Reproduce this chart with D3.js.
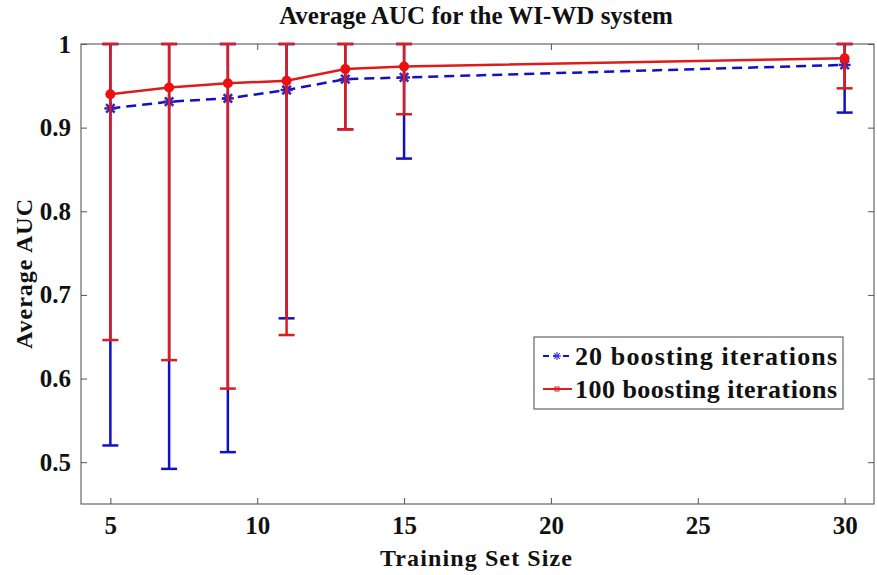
<!DOCTYPE html>
<html>
<head>
<meta charset="utf-8">
<script src="https://cdn.jsdelivr.net/npm/d3@7"></script>
<style>
  body { margin: 0; background: #fff; }
  svg text { font-family: "Liberation Serif", "DejaVu Serif", serif; font-weight: bold; fill: #111; }
</style>
</head>
<body>
<svg id="chart" width="877" height="575"></svg>
<script>
// Data
var sizes = [5, 7, 9, 11, 13, 15, 30];
var auc20 = [0.923, 0.931, 0.935, 0.945, 0.958, 0.960, 0.975];
var low20 = [0.520, 0.492, 0.512, 0.672, 0.898, 0.863, 0.918];
var high20 = [1, 1, 1, 1, 1, 1, 1];
var auc100 = [0.940, 0.948, 0.953, 0.956, 0.970, 0.973, 0.983];
var low100 = [0.646, 0.622, 0.588, 0.652, 0.898, 0.916, 0.947];
var high100 = [1, 1, 1, 1, 1, 1, 1];
var xTicks = [5, 10, 15, 20, 25, 30];
var yTicks = [0.5, 0.6, 0.7, 0.8, 0.9, 1];
var seriesNames = ["20 boosting iterations", "100 boosting iterations"];

var svg = d3.select("#chart"),
  margin = {left: 81, right: 3, top: 44, bottom: 71},
  width = 877 - margin.left - margin.right,
  height = 575 - margin.top - margin.bottom,
  capW = 8;

var x = d3.scaleLinear().domain([4, 31]).range([margin.left, margin.left + width]);
var y = d3.scaleLinear().domain([0.45, 1]).range([margin.top + height, margin.top]);

// title
svg.append("text")
  .attr("x", 476).attr("y", 24)
  .attr("text-anchor", "middle")
  .style("font-size", "25px")
  .text("Average AUC for the WI-WD system");

// axes box with inward ticks
svg.append("rect")
  .attr("x", margin.left).attr("y", margin.top)
  .attr("width", width).attr("height", height)
  .attr("fill", "none").attr("stroke", "#666").attr("stroke-width", 1.2);

var gx = svg.append("g")
  .attr("transform", "translate(0," + (margin.top + height) + ")")
  .call(d3.axisBottom(x).tickValues(xTicks).tickSizeInner(-6).tickSizeOuter(0).tickPadding(12));
var gxTop = svg.append("g")
  .attr("transform", "translate(0," + margin.top + ")")
  .call(d3.axisTop(x).tickValues(xTicks).tickSizeInner(-6).tickSizeOuter(0).tickFormat(""));
var gy = svg.append("g")
  .attr("transform", "translate(" + margin.left + ",0)")
  .call(d3.axisLeft(y).tickValues(yTicks).tickSizeInner(-6).tickSizeOuter(0).tickPadding(10)
    .tickFormat(d => d === 1 ? "1" : d3.format(".1f")(d)));
var gyRight = svg.append("g")
  .attr("transform", "translate(" + (margin.left + width) + ",0)")
  .call(d3.axisRight(y).tickValues(yTicks).tickSizeInner(-6).tickSizeOuter(0).tickFormat(""));

[gx, gxTop, gy, gyRight].forEach(function (g) {
  g.select(".domain").remove();
  g.selectAll(".tick line").attr("stroke", "#555");
  g.selectAll(".tick text").style("font-size", "25px").attr("fill", "#111");
});

// axis labels
svg.append("text")
  .attr("x", 476).attr("y", 566)
  .attr("text-anchor", "middle")
  .attr("textLength", 192)
  .style("font-size", "24px")
  .text("Training Set Size");
svg.append("text")
  .attr("transform", "translate(32," + 274 + ") rotate(-90)")
  .attr("text-anchor", "middle")
  .attr("textLength", 150)
  .style("font-size", "24px")
  .text("Average AUC");

var plot = svg.append("g");

function drawErrors(mean, lo, hi, color) {
  var g = plot.append("g").attr("stroke", color).attr("stroke-width", 2.5).attr("fill", "none");
  sizes.forEach(function (s, i) {
    var cx = x(s);
    g.append("line").attr("x1", cx).attr("x2", cx).attr("y1", y(lo[i])).attr("y2", y(hi[i]));
    g.append("line").attr("x1", cx - capW).attr("x2", cx + capW).attr("y1", y(lo[i])).attr("y2", y(lo[i]));
    g.append("line").attr("x1", cx - capW).attr("x2", cx + capW).attr("y1", y(hi[i])).attr("y2", y(hi[i]));
  });
}

function drawLine(mean, color, dash) {
  var line = d3.line().x((d, i) => x(sizes[i])).y(d => y(d));
  plot.append("path")
    .datum(mean)
    .attr("d", line)
    .attr("fill", "none")
    .attr("stroke", color)
    .attr("stroke-width", 2.5)
    .attr("stroke-dasharray", dash);
}

function drawStar(g, cx, cy, r, color, w) {
  for (var k = 0; k < 4; k++) {
    var a = k * Math.PI / 4;
    g.append("line")
      .attr("x1", cx - r * Math.cos(a)).attr("y1", cy - r * Math.sin(a))
      .attr("x2", cx + r * Math.cos(a)).attr("y2", cy + r * Math.sin(a))
      .attr("stroke", color).attr("stroke-width", w);
  }
}

// blue series first, red on top
drawErrors(auc20, low20, high20, "#1010c8");
drawLine(auc20, "#1010c8", "10,6");
var stars = plot.append("g");
auc20.forEach((v, i) => drawStar(stars, x(sizes[i]), y(v), 6, "#4020b0", 2.5));

drawErrors(auc100, low100, high100, "#dd1c1c");
drawLine(auc100, "#dd1c1c", null);
plot.selectAll(".dot100")
  .data(auc100)
  .enter().append("circle")
  .attr("class", "dot100")
  .attr("cx", (d, i) => x(sizes[i]))
  .attr("cy", d => y(d))
  .attr("r", 5)
  .attr("fill", "#ee1010");

// legend
var lg = svg.append("g");
lg.append("rect")
  .attr("x", 534).attr("y", 337).attr("width", 309).attr("height", 72)
  .attr("fill", "#fff").attr("stroke", "#666").attr("stroke-width", 1.2);
var legendColors = ["#1010c8", "#dd1c1c"];
seriesNames.forEach(function (name, i) {
  var ly = 356 + i * 33;
  lg.append("line")
    .attr("x1", 543).attr("x2", 572).attr("y1", ly).attr("y2", ly)
    .attr("stroke", legendColors[i]).attr("stroke-width", 2)
    .attr("stroke-dasharray", i === 0 ? "6,4" : null);
  if (i === 0) drawStar(lg, 557, ly, 4, "#4040e0", 1.2);
  else lg.append("rect").attr("x", 555).attr("y", ly - 2).attr("width", 4).attr("height", 4)
        .attr("fill", "none").attr("stroke", legendColors[i]).attr("stroke-width", 1);
  lg.append("text")
    .attr("x", 575).attr("y", ly + 9)
    .attr("textLength", 262)
    .style("font-size", "26px")
    .text(name);
});
</script>
</body>
</html>
